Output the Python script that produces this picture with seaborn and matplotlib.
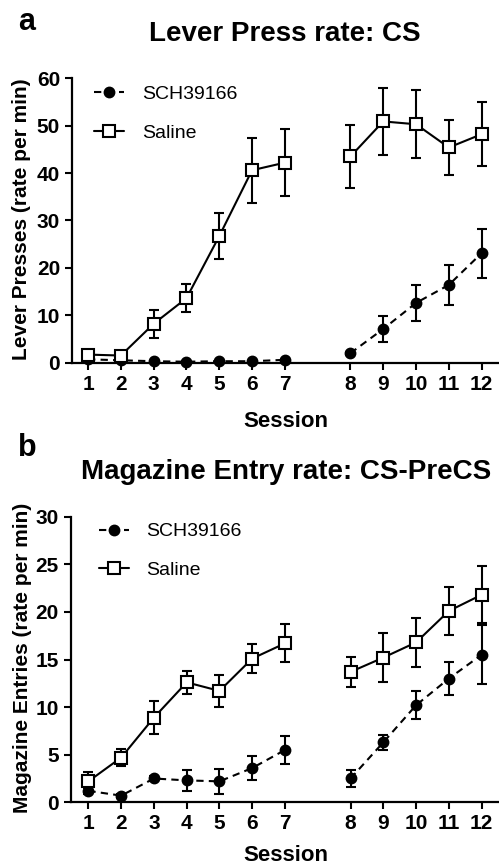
import matplotlib

matplotlib.use("Agg")
import matplotlib.pyplot as plt
import numpy as np
import pandas as pd
import seaborn as sns
from matplotlib.lines import Line2D

# --- data ---
sessions = np.arange(1, 13)
groups = ["SCH39166", "Saline"]

lever_sch = [0.7, 0.5, 0.3, 0.2, 0.3, 0.3, 0.6, 2.0, 7.1, 12.6, 16.4, 23.1]
lever_sch_sem = [0.2, 0.1, 0.1, 0.1, 0.1, 0.1, 0.2, 0.3, 2.8, 3.8, 4.3, 5.2]
lever_saline = [1.7, 1.5, 8.2, 13.6, 26.7, 40.6, 42.2, 43.5, 50.9, 50.3, 45.4, 48.2]
lever_saline_sem = [0.6, 0.5, 3.0, 2.9, 4.9, 6.9, 7.0, 6.7, 7.0, 7.2, 5.9, 6.7]

mag_sch = [1.2, 0.7, 2.5, 2.3, 2.2, 3.6, 5.5, 2.5, 6.3, 10.2, 13.0, 15.5]
mag_sch_sem = [0.3, 0.2, 0.3, 1.1, 1.3, 1.3, 1.5, 0.9, 0.8, 1.5, 1.7, 3.1]
mag_saline = [2.2, 4.7, 8.9, 12.6, 11.7, 15.1, 16.7, 13.7, 15.2, 16.8, 20.1, 21.8]
mag_saline_sem = [1.0, 0.9, 1.7, 1.2, 1.7, 1.5, 2.0, 1.6, 2.6, 2.6, 2.5, 3.0]

lever_ticks = [0, 10, 20, 30, 40, 50, 60]
mag_ticks = [0, 5, 10, 15, 20, 25, 30]

sns.set_theme(style="ticks")
plt.rcParams["font.family"] = ["Liberation Sans", "DejaVu Sans"]
plt.rcParams["font.weight"] = "bold"
for key in ("text.color", "axes.labelcolor", "xtick.color", "ytick.color", "axes.edgecolor"):
    plt.rcParams[key] = "black"

STYLE = {
    "SCH39166": dict(marker="o", markerfacecolor="black", markersize=7,
                     linestyle=(0, (3.5, 2.5))),
    "Saline": dict(marker="s", markerfacecolor="white", markersize=8.5,
                   linestyle="-"),
}


def make_frame(sch, sch_sem, sal, sal_sem):
    rows = []
    for grp, vals, sems in [("SCH39166", sch, sch_sem), ("Saline", sal, sal_sem)]:
        for s, v, e in zip(sessions, vals, sems):
            rows.append(dict(session=s, pos=s + (1 if s > 7 else 0), rate=v,
                             sem=e, group=grp, block=1 if s <= 7 else 2))
    return pd.DataFrame(rows)


def draw_panel(ax, df, ylim, yticks, ylabel, xlim):
    for grp in groups:
        sub = df[df["group"] == grp]
        ax.errorbar(sub["pos"], sub["rate"], yerr=sub["sem"], fmt="none",
                    ecolor="black", elinewidth=1.5, capsize=3.8, capthick=1.5,
                    zorder=2, clip_on=False)
        sns.lineplot(data=sub, x="pos", y="rate", units="block", estimator=None,
                     color="black", linewidth=1.5, markeredgecolor="black",
                     markeredgewidth=1.5, clip_on=False, zorder=3, ax=ax,
                     legend=False, **STYLE[grp])
    ax.set_xlim(*xlim)
    ax.set_ylim(*ylim)
    ax.set_yticks(yticks)
    ax.set_xticks(sorted(df["pos"].unique()))
    ax.set_xticklabels([str(s) for s in sessions])
    sns.despine(ax=ax)
    for sp in ("left", "bottom"):
        ax.spines[sp].set_linewidth(1.6)
        ax.spines[sp].set_color("black")
    ax.tick_params(axis="both", direction="out", length=5, width=1.5,
                   labelsize=15, pad=3.6, colors="black")
    for lab in ax.get_xticklabels() + ax.get_yticklabels():
        lab.set_fontweight("bold")
    ax.set_ylabel(ylabel, fontsize=15, fontweight="bold")
    ax.set_xlabel("Session", fontsize=16, fontweight="bold")
    ax.xaxis.label.set_verticalalignment("baseline")
    ax.set_facecolor("white")

    handles = [
        Line2D([], [], color="black", linewidth=1.5, markeredgecolor="black",
               markeredgewidth=1.5, **STYLE[g]) for g in groups
    ]
    leg = ax.legend(handles, groups, frameon=False, loc="upper left",
                    prop=dict(size=14, weight="normal"), handlelength=1.55,
                    handletextpad=0.9, labelspacing=1.08, borderpad=0,
                    borderaxespad=0)
    return leg


fig = plt.figure(figsize=(4.99, 8.68), dpi=100)
fig.patch.set_facecolor("white")

ax_a = fig.add_axes([0.1443, 0.5822, 0.8557, 0.3276])
leg = draw_panel(ax_a, make_frame(lever_sch, lever_sch_sem, lever_saline, lever_saline_sem),
                 (0, 60), lever_ticks, "Lever Presses (rate per min)", (0.51, 13.53))
leg.set_bbox_to_anchor((0.0515, 0.975), transform=ax_a.transAxes)
ax_a.yaxis.set_label_coords(-0.097, 0.503)
ax_a.xaxis.set_label_coords(0.50, -0.228)

ax_b = fig.add_axes([0.1417, 0.0757, 0.8583, 0.329])
leg = draw_panel(ax_b, make_frame(mag_sch, mag_sch_sem, mag_saline, mag_saline_sem),
                 (0, 30), mag_ticks, "Magazine Entries (rate per min)", (0.46, 13.53))
leg.set_bbox_to_anchor((0.066, 0.979), transform=ax_b.transAxes)
ax_b.yaxis.set_label_coords(-0.091, 0.507)
ax_b.xaxis.set_label_coords(0.503, -0.205)

fig.text(0.036, 0.965, "a", fontsize=22, fontweight="bold", va="baseline")
fig.text(0.571, 0.953, "Lever Press rate: CS", fontsize=20, fontweight="bold",
         ha="center", va="baseline")
fig.text(0.036, 0.475, "b", fontsize=22, fontweight="bold", va="baseline")
fig.text(0.574, 0.448, "Magazine Entry rate: CS-PreCS", fontsize=20,
         fontweight="bold", ha="center", va="baseline")

fig.savefig("out.png", dpi=100, facecolor="white")
